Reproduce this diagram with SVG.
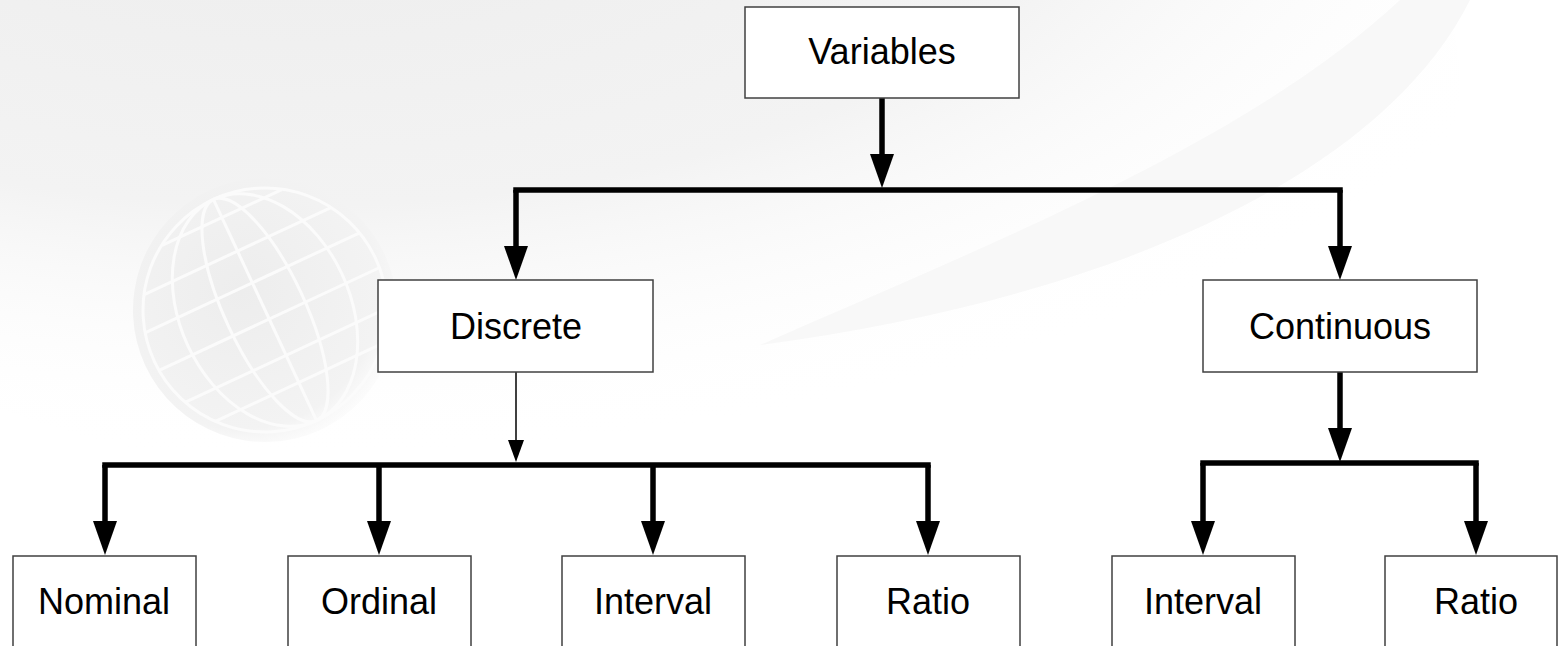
<svg xmlns="http://www.w3.org/2000/svg" width="1558" height="646" viewBox="0 0 1558 646">
  <style>
    .box { fill: #ffffff; stroke: #404040; stroke-width: 1.5; }
    .lbl { font-family: "Liberation Sans", Arial, sans-serif; font-size: 36px; fill: #000000; text-anchor: middle; }
    .thick { fill: none; stroke: #000000; stroke-width: 5.5; }
    .bar { fill: none; stroke: #000000; stroke-width: 5.5; stroke-linecap: square; }
    .thin { fill: none; stroke: #000000; stroke-width: 1.5; }
    .globe { fill: none; stroke: #fbfbfb; stroke-width: 3; }
  </style>
  <defs>
    <marker id="ah" markerUnits="userSpaceOnUse" markerWidth="34" markerHeight="24" refX="0" refY="12" orient="auto" viewBox="0 0 34 24">
      <path d="M0,0 L34,12 L0,24 z" fill="#000000"/>
    </marker>
    <marker id="ahs" markerUnits="userSpaceOnUse" markerWidth="22" markerHeight="16" refX="0" refY="8" orient="auto" viewBox="0 0 22 16">
      <path d="M0,0 L22,8 L0,16 z" fill="#000000"/>
    </marker>
    <radialGradient id="blob" cx="0.35" cy="0.2" r="0.75">
      <stop offset="0" stop-color="#ececec"/>
      <stop offset="0.6" stop-color="#f3f3f3"/>
      <stop offset="1" stop-color="#ffffff" stop-opacity="0"/>
    </radialGradient>
    <radialGradient id="globeGrad" cx="0.45" cy="0.4" r="0.65">
      <stop offset="0" stop-color="#ededed"/>
      <stop offset="0.8" stop-color="#f3f3f3"/>
      <stop offset="1" stop-color="#f7f7f7" stop-opacity="0"/>
    </radialGradient>
  </defs>

  <!-- background watermark -->
  <g id="background">
    <rect x="0" y="0" width="1558" height="646" fill="#ffffff"/>
    <ellipse cx="560" cy="80" rx="900" ry="420" fill="url(#blob)"/>
    <path d="M1470,0 C1380,180 1100,300 760,345 C1000,240 1250,140 1400,0 Z" fill="#f8f8f8"/>
    <g transform="translate(265,310) rotate(-25)">
      <circle cx="0" cy="0" r="132" fill="url(#globeGrad)"/>
      <circle cx="0" cy="0" r="122" class="globe"/>
      <ellipse cx="0" cy="0" rx="40" ry="122" class="globe"/>
      <ellipse cx="0" cy="0" rx="85" ry="122" class="globe"/>
      <line x1="0" y1="-122" x2="0" y2="122" class="globe"/>
      <line x1="-119" y1="-30" x2="119" y2="-30" class="globe"/>
      <line x1="-122" y1="10" x2="122" y2="10" class="globe"/>
      <line x1="-111" y1="50" x2="111" y2="50" class="globe"/>
      <line x1="-92" y1="80" x2="92" y2="80" class="globe"/>
      <line x1="-103" y1="-65" x2="103" y2="-65" class="globe"/>
      <line x1="-66" y1="-102" x2="66" y2="-102" class="globe"/>
    </g>
  </g>

  <!-- connectors -->
  <g id="connectors">
    <path class="thick" d="M882,98 V154" marker-end="url(#ah)"/>
    <path class="bar" d="M516,190 H1340"/>
    <path class="thick" d="M516,190 V246" marker-end="url(#ah)"/>
    <path class="thick" d="M1340,190 V246" marker-end="url(#ah)"/>

    <path class="thin" d="M516,372 V440" marker-end="url(#ahs)"/>
    <path class="bar" d="M105,465 H928"/>
    <path class="thick" d="M105,465 V521" marker-end="url(#ah)"/>
    <path class="thick" d="M379,465 V521" marker-end="url(#ah)"/>
    <path class="thick" d="M653,465 V521" marker-end="url(#ah)"/>
    <path class="thick" d="M928,465 V521" marker-end="url(#ah)"/>

    <path class="thick" d="M1340,372 V428" marker-end="url(#ah)"/>
    <path class="bar" d="M1203,463 H1476"/>
    <path class="thick" d="M1203,463 V521" marker-end="url(#ah)"/>
    <path class="thick" d="M1476,463 V521" marker-end="url(#ah)"/>
  </g>

  <!-- nodes -->
  <g id="node-variables">
    <rect class="box" x="745" y="7" width="274" height="91"/>
    <text class="lbl" x="882" y="64">Variables</text>
  </g>
  <g id="node-discrete">
    <rect class="box" x="378" y="280" width="275" height="92"/>
    <text class="lbl" x="516" y="339">Discrete</text>
  </g>
  <g id="node-continuous">
    <rect class="box" x="1203" y="280" width="274" height="92"/>
    <text class="lbl" x="1340" y="339">Continuous</text>
  </g>
  <g id="node-nominal">
    <rect class="box" x="13" y="556" width="183" height="100"/>
    <text class="lbl" x="104" y="614">Nominal</text>
  </g>
  <g id="node-ordinal">
    <rect class="box" x="288" y="556" width="183" height="100"/>
    <text class="lbl" x="379" y="614">Ordinal</text>
  </g>
  <g id="node-interval-d">
    <rect class="box" x="562" y="556" width="183" height="100"/>
    <text class="lbl" x="653" y="614">Interval</text>
  </g>
  <g id="node-ratio-d">
    <rect class="box" x="837" y="556" width="183" height="100"/>
    <text class="lbl" x="928" y="614">Ratio</text>
  </g>
  <g id="node-interval-c">
    <rect class="box" x="1112" y="556" width="183" height="100"/>
    <text class="lbl" x="1203" y="614">Interval</text>
  </g>
  <g id="node-ratio-c">
    <rect class="box" x="1385" y="556" width="172" height="100"/>
    <text class="lbl" x="1476" y="614">Ratio</text>
  </g>
</svg>
